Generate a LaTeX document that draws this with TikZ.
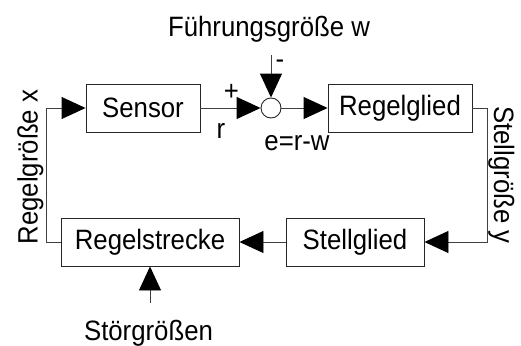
\documentclass[tikz,border=0pt]{standalone}
\usepackage{fontspec}
\setmainfont{Liberation Sans}[FakeStretch=0.92]
\usetikzlibrary{arrows.meta}
\begin{document}
\begin{tikzpicture}[x=1pt,y=-1pt,
  every node/.style={font=\fontsize{28}{32}\selectfont, inner sep=0pt},
  blockbox/.style={draw=black!85, line width=0.9pt, minimum height=48pt},
  conn/.style={draw=black!75, line width=0.9pt},
  arr/.style={conn, -{Triangle[length=24pt,width=22pt,black]}},
  lbl/.style={anchor=base}]
\useasboundingbox (0,0) rectangle (521,345);
\node[blockbox, minimum width=114pt] (sensor) at (143,108) {Sensor};
\node[blockbox, minimum width=144pt] (regler) at (400,108) {Regelglied};
\node[draw=black!85, line width=0.9pt, circle, minimum size=20pt] (sum) at (271,108) {};
\node[blockbox, minimum width=178pt] (strecke) at (150,242) {Regelstrecke};
\node[blockbox, minimum width=138pt] (steller) at (355,242) {Stellglied};
\coordinate (wtop) at (271,55);
\coordinate (zin) at (150,303);
\coordinate (rcorner) at (487.5,108);
\coordinate (lcorner) at (46.5,242);
\draw[arr] (sensor.east) -- (sum.west);
\draw[arr] (sum.east) -- (regler.west);
\draw[arr] (wtop) -- (sum.north);
\draw[arr] (regler.east) -- (rcorner) |- (steller.east);
\draw[arr] (steller.west) -- (strecke.east);
\draw[arr] (strecke.west) -- (lcorner) |- (sensor.west);
\draw[arr] (zin) -- (strecke.south);
\node[lbl] (wlabel) at (269,37) {Führungsgröße w};
\node (plus) at (231.5,92) {+};
\node[lbl] (rlabel) at (221,138) {r};
\node (minus) at (280,64) {-};
\node[lbl] (elabel) at (297,150) {e=r-w};
\node[lbl] (zlabel) at (148.5,340) {Störgrößen};
\node[lbl, rotate=90] (xlabel) at (37.5,167) {Regelgröße x};
\node[lbl, rotate=-90] (ylabel) at (494,175) {Stellgröße y};
\end{tikzpicture}
\end{document}
